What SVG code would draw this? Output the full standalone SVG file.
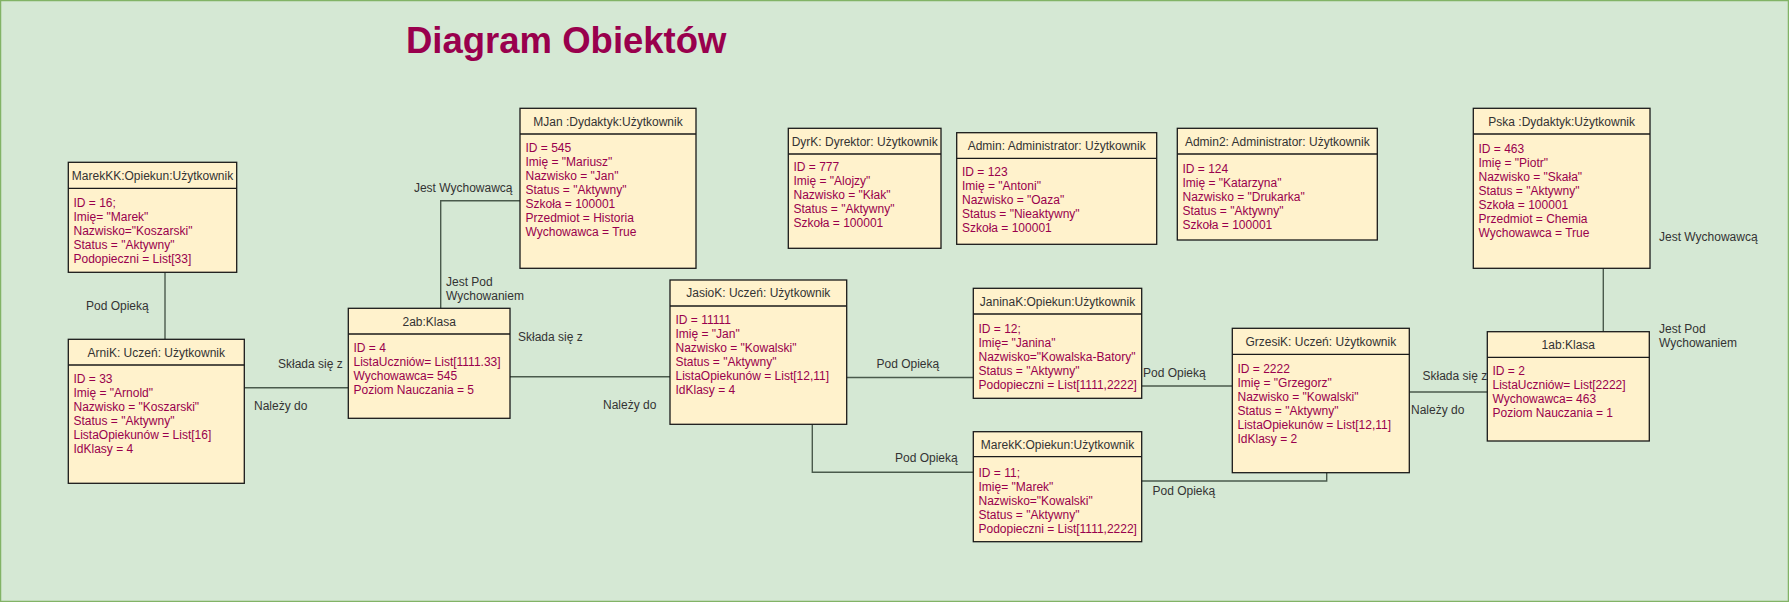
<svg xmlns="http://www.w3.org/2000/svg" width="1789" height="602" viewBox="0 0 1789 602">
<style>
.box{fill:#fff2cc;stroke:#1a1a1a;stroke-width:1.3}
.hd{font-family:"Liberation Sans",Arial,sans-serif;font-size:12px;fill:#333333;text-anchor:middle}
.at{font-family:"Liberation Sans",Arial,sans-serif;font-size:12px;fill:#99004d}
.lb{font-family:"Liberation Sans",Arial,sans-serif;font-size:12px;fill:#333333}
.cn{fill:none;stroke:#4a5a4c;stroke-width:1.4}
</style>
<rect x="0.5" y="0.5" width="1788" height="601" fill="#d5e8d4" stroke="#82b366" stroke-width="1.5"/>
<text x="406" y="53" font-family="Liberation Sans,Arial,sans-serif" font-size="36.5" font-weight="bold" fill="#99004d">Diagram Obiektów</text>

<g id="connectors">
<path class="cn" d="M165,272.3V339.3"/>
<path class="cn" d="M244.3,387.7H348.3"/>
<path class="cn" d="M520,200.7H440.7V308.3"/>
<path class="cn" d="M510,376.7H670"/>
<path class="cn" d="M846.7,377.5H973.3"/>
<path class="cn" d="M812.3,424.3V472.3H973.3"/>
<path class="cn" d="M1141.7,386H1232.3"/>
<path class="cn" d="M1141.7,481H1326.7V472.7"/>
<path class="cn" d="M1409.3,392H1487.3"/>
<path class="cn" d="M1603.3,268.3V331.7"/>
<text class="lb" x="86" y="310">Pod Opieką</text>
<text class="lb" x="278" y="368">Składa się z</text>
<text class="lb" x="254" y="410">Należy do</text>
<text class="lb" x="512.5" y="191.5" text-anchor="end">Jest Wychowawcą</text>
<text class="lb" x="446" y="286">Jest Pod</text>
<text class="lb" x="446" y="299.5">Wychowaniem</text>
<text class="lb" x="518" y="341">Składa się z</text>
<text class="lb" x="603" y="409.3">Należy do</text>
<text class="lb" x="876.5" y="367.6">Pod Opieką</text>
<text class="lb" x="895" y="462">Pod Opieką</text>
<text class="lb" x="1143" y="376.6">Pod Opieką</text>
<text class="lb" x="1152.5" y="495">Pod Opieką</text>
<text class="lb" x="1422.5" y="380">Składa się z</text>
<text class="lb" x="1411" y="414.3">Należy do</text>
<text class="lb" x="1659" y="241">Jest Wychowawcą</text>
<text class="lb" x="1659" y="332.6">Jest Pod</text>
<text class="lb" x="1659" y="347">Wychowaniem</text>
</g>

<g id="MarekKK">
<rect class="box" x="68.3" y="162.3" width="168.4" height="110"/>
<path class="box" d="M68.3,188.3H236.7"/>
<text class="hd" x="152.5" y="179.6">MarekKK:Opiekun:Użytkownik</text>
<text class="at" x="73.5" y="206.5">ID = 16;</text>
<text class="at" x="73.5" y="220.5">Imię= "Marek"</text>
<text class="at" x="73.5" y="234.5">Nazwisko="Koszarski"</text>
<text class="at" x="73.5" y="248.5">Status = "Aktywny"</text>
<text class="at" x="73.5" y="262.5">Podopieczni = List[33]</text>
</g>

<g id="ArniK">
<rect class="box" x="68.3" y="339.3" width="176" height="144"/>
<path class="box" d="M68.3,365H244.3"/>
<text class="hd" x="156.3" y="356.5">ArniK: Uczeń: Użytkownik</text>
<text class="at" x="73.5" y="383">ID = 33</text>
<text class="at" x="73.5" y="397">Imię = "Arnold"</text>
<text class="at" x="73.5" y="411">Nazwisko = "Koszarski"</text>
<text class="at" x="73.5" y="425">Status = "Aktywny"</text>
<text class="at" x="73.5" y="439">ListaOpiekunów = List[16]</text>
<text class="at" x="73.5" y="453">IdKlasy = 4</text>
</g>

<g id="k2ab">
<rect class="box" x="348.3" y="308.3" width="161.7" height="110"/>
<path class="box" d="M348.3,334H510"/>
<text class="hd" x="429.2" y="325.5">2ab:Klasa</text>
<text class="at" x="353.5" y="352">ID = 4</text>
<text class="at" x="353.5" y="366">ListaUczniów= List[1111.33]</text>
<text class="at" x="353.5" y="380">Wychowawca= 545</text>
<text class="at" x="353.5" y="394">Poziom Nauczania = 5</text>
</g>

<g id="MJan">
<rect class="box" x="520" y="108.3" width="176" height="160"/>
<path class="box" d="M520,134H696"/>
<text class="hd" x="608" y="125.5">MJan :Dydaktyk:Użytkownik</text>
<text class="at" x="525.5" y="152">ID = 545</text>
<text class="at" x="525.5" y="166">Imię = "Mariusz"</text>
<text class="at" x="525.5" y="180">Nazwisko = "Jan"</text>
<text class="at" x="525.5" y="194">Status = "Aktywny"</text>
<text class="at" x="525.5" y="208">Szkoła = 100001</text>
<text class="at" x="525.5" y="222">Przedmiot = Historia</text>
<text class="at" x="525.5" y="236">Wychowawca = True</text>
</g>

<g id="JasioK">
<rect class="box" x="670" y="280" width="176.7" height="144.3"/>
<path class="box" d="M670,306H846.7"/>
<text class="hd" x="758.3" y="297.3">JasioK: Uczeń: Użytkownik</text>
<text class="at" x="675.5" y="324.3">ID = 11111</text>
<text class="at" x="675.5" y="338.3">Imię = "Jan"</text>
<text class="at" x="675.5" y="352.3">Nazwisko = "Kowalski"</text>
<text class="at" x="675.5" y="366.3">Status = "Aktywny"</text>
<text class="at" x="675.5" y="380.3">ListaOpiekunów = List[12,11]</text>
<text class="at" x="675.5" y="394.3">IdKlasy = 4</text>
</g>

<g id="DyrK">
<rect class="box" x="788.3" y="128.3" width="152.7" height="120"/>
<path class="box" d="M788.3,154H941"/>
<text class="hd" x="864.7" y="145.5">DyrK: Dyrektor: Użytkownik</text>
<text class="at" x="793.5" y="171">ID = 777</text>
<text class="at" x="793.5" y="185">Imię = "Alojzy"</text>
<text class="at" x="793.5" y="199">Nazwisko = "Kłak"</text>
<text class="at" x="793.5" y="213">Status = "Aktywny"</text>
<text class="at" x="793.5" y="227">Szkoła = 100001</text>
</g>

<g id="Admin">
<rect class="box" x="956.7" y="132.7" width="200" height="111.6"/>
<path class="box" d="M956.7,158.3H1156.7"/>
<text class="hd" x="1056.7" y="149.8">Admin: Administrator: Użytkownik</text>
<text class="at" x="962" y="175.5">ID = 123</text>
<text class="at" x="962" y="189.5">Imię = "Antoni"</text>
<text class="at" x="962" y="203.5">Nazwisko = "Oaza"</text>
<text class="at" x="962" y="217.5">Status = "Nieaktywny"</text>
<text class="at" x="962" y="231.5">Szkoła = 100001</text>
</g>

<g id="Admin2">
<rect class="box" x="1177.3" y="128.3" width="200" height="111.7"/>
<path class="box" d="M1177.3,154H1377.3"/>
<text class="hd" x="1277.3" y="145.5">Admin2: Administrator: Użytkownik</text>
<text class="at" x="1182.5" y="172.5">ID = 124</text>
<text class="at" x="1182.5" y="186.5">Imię = "Katarzyna"</text>
<text class="at" x="1182.5" y="200.5">Nazwisko = "Drukarka"</text>
<text class="at" x="1182.5" y="214.5">Status = "Aktywny"</text>
<text class="at" x="1182.5" y="228.5">Szkoła = 100001</text>
</g>

<g id="Pska">
<rect class="box" x="1473.3" y="108.3" width="176.7" height="160"/>
<path class="box" d="M1473.3,134H1650"/>
<text class="hd" x="1561.7" y="125.5">Pska :Dydaktyk:Użytkownik</text>
<text class="at" x="1478.5" y="152.5">ID = 463</text>
<text class="at" x="1478.5" y="166.5">Imię = "Piotr"</text>
<text class="at" x="1478.5" y="180.5">Nazwisko = "Skała"</text>
<text class="at" x="1478.5" y="194.5">Status = "Aktywny"</text>
<text class="at" x="1478.5" y="208.5">Szkoła = 100001</text>
<text class="at" x="1478.5" y="222.5">Przedmiot = Chemia</text>
<text class="at" x="1478.5" y="236.5">Wychowawca = True</text>
</g>

<g id="JaninaK">
<rect class="box" x="973.3" y="288.3" width="168.4" height="110"/>
<path class="box" d="M973.3,314H1141.7"/>
<text class="hd" x="1057.5" y="305.5">JaninaK:Opiekun:Użytkownik</text>
<text class="at" x="978.5" y="332.5">ID = 12;</text>
<text class="at" x="978.5" y="346.5">Imię= "Janina"</text>
<text class="at" x="978.5" y="360.5">Nazwisko="Kowalska-Batory"</text>
<text class="at" x="978.5" y="374.5">Status = "Aktywny"</text>
<text class="at" x="978.5" y="388.5">Podopieczni = List[1111,2222]</text>
</g>

<g id="MarekK">
<rect class="box" x="973.3" y="431.7" width="168.4" height="110"/>
<path class="box" d="M973.3,456.7H1141.7"/>
<text class="hd" x="1057.5" y="448.5">MarekK:Opiekun:Użytkownik</text>
<text class="at" x="978.5" y="476.5">ID = 11;</text>
<text class="at" x="978.5" y="490.5">Imię= "Marek"</text>
<text class="at" x="978.5" y="504.5">Nazwisko="Kowalski"</text>
<text class="at" x="978.5" y="518.5">Status = "Aktywny"</text>
<text class="at" x="978.5" y="532.5">Podopieczni = List[1111,2222]</text>
</g>

<g id="GrzesiK">
<rect class="box" x="1232.3" y="328.3" width="177" height="144.4"/>
<path class="box" d="M1232.3,354.3H1409.3"/>
<text class="hd" x="1320.8" y="345.6">GrzesiK: Uczeń: Użytkownik</text>
<text class="at" x="1237.5" y="372.5">ID = 2222</text>
<text class="at" x="1237.5" y="386.5">Imię = "Grzegorz"</text>
<text class="at" x="1237.5" y="400.5">Nazwisko = "Kowalski"</text>
<text class="at" x="1237.5" y="414.5">Status = "Aktywny"</text>
<text class="at" x="1237.5" y="428.5">ListaOpiekunów = List[12,11]</text>
<text class="at" x="1237.5" y="442.5">IdKlasy = 2</text>
</g>

<g id="k1ab">
<rect class="box" x="1487.3" y="331.7" width="162" height="109.3"/>
<path class="box" d="M1487.3,357.3H1649.3"/>
<text class="hd" x="1568.3" y="348.8">1ab:Klasa</text>
<text class="at" x="1492.5" y="375.3">ID = 2</text>
<text class="at" x="1492.5" y="389.3">ListaUczniów= List[2222]</text>
<text class="at" x="1492.5" y="403.3">Wychowawca= 463</text>
<text class="at" x="1492.5" y="417.3">Poziom Nauczania = 1</text>
</g>
</svg>
